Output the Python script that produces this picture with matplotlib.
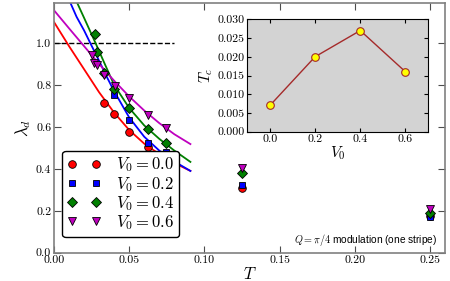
import matplotlib
matplotlib.use("Agg")
from matplotlib import pyplot as plt

plt.rcParams['font.family'] = 'serif'
plt.rcParams['font.serif'] = ['cmr10', 'DejaVu Serif']
plt.rcParams['mathtext.fontset'] = 'cm'
plt.rcParams['axes.formatter.use_mathtext'] = True

# measured points (T, lambda_d)
T_red = [0.0333, 0.04, 0.05, 0.0625, 0.0745, 0.125, 0.25]
lam_red = [0.714, 0.66, 0.576, 0.502, 0.469, 0.307, 0.175]
T_blue = [0.04, 0.05, 0.0625, 0.0745, 0.125, 0.25]
lam_blue = [0.754, 0.632, 0.524, 0.478, 0.322, 0.172]
T_green = [0.027, 0.0287, 0.0333, 0.04, 0.05, 0.0625, 0.0745, 0.125, 0.25]
lam_green = [1.045, 0.957, 0.857, 0.783, 0.69, 0.592, 0.521, 0.381, 0.188]
T_mag = [0.0251, 0.0269, 0.0289, 0.0333, 0.0405, 0.05, 0.0625, 0.0745, 0.125, 0.25]
lam_mag = [0.941, 0.906, 0.895, 0.848, 0.797, 0.738, 0.659, 0.597, 0.405, 0.207]

# fit curves
fitT_red = [0.0, 0.01, 0.02, 0.03, 0.04, 0.05, 0.06, 0.07, 0.08, 0.0907]
fit_red = [1.10, 0.985, 0.875, 0.765, 0.668, 0.585, 0.52, 0.47, 0.428, 0.39]
fitT_blue = [0.011, 0.015, 0.02, 0.0241, 0.03, 0.035, 0.04, 0.05, 0.06, 0.07, 0.08, 0.0907]
fit_blue = [1.19, 1.125, 1.06, 1.0, 0.915, 0.84, 0.77, 0.645, 0.553, 0.487, 0.435, 0.39]
fitT_green = [0.0155, 0.02, 0.0276, 0.035, 0.04, 0.05, 0.06, 0.07, 0.08, 0.0907]
fit_green = [1.19, 1.12, 1.0, 0.88, 0.80, 0.69, 0.607, 0.543, 0.487, 0.433]
fitT_mag = [0.0, 0.01, 0.02, 0.03, 0.04, 0.05, 0.06, 0.07, 0.08, 0.0907]
fit_mag = [1.156, 1.07, 0.985, 0.90, 0.82, 0.745, 0.678, 0.618, 0.565, 0.518]

V0 = [0.0, 0.2, 0.4, 0.6]
Tc = [0.007, 0.020, 0.027, 0.016]

labels = ['$V_0=0.0$', '$V_0=0.2$', '$V_0=0.4$', '$V_0=0.6$']

fig = plt.figure(figsize=(4.5, 2.81), dpi=100)
ax = fig.add_axes([0.12, 0.1007, 0.869, 0.888])

ax.plot([0, 0.08], [1.0, 1.0], 'k--', lw=1)
ax.plot(fitT_red, fit_red, color='r', lw=1.3)
ax.plot(fitT_blue, fit_blue, color='b', lw=1.3)
ax.plot(fitT_green, fit_green, color='g', lw=1.3)
ax.plot(fitT_mag, fit_mag, color='m', lw=1.3)

ax.plot(T_red, lam_red, 'o', color='r', mec='k', mew=0.6, ms=5.5, label=labels[0])
ax.plot(T_blue, lam_blue, 's', color='b', mec='k', mew=0.6, ms=5, label=labels[1])
ax.plot(T_green, lam_green, 'D', color='g', mec='k', mew=0.6, ms=4.8, label=labels[2])
ax.plot(T_mag, lam_mag, 'v', color='m', mec='k', mew=0.6, ms=6, label=labels[3])

ax.set_xlim(0, 0.26)
ax.set_ylim(0, 1.19)
ax.set_xticks([0.0, 0.05, 0.10, 0.15, 0.20, 0.25])
ax.set_xticklabels(['0.00', '0.05', '0.10', '0.15', '0.20', '0.25'])
ax.set_yticks([0.0, 0.2, 0.4, 0.6, 0.8, 1.0])
ax.set_yticklabels(['0.0', '0.2', '0.4', '0.6', '0.8', '1.0'])
ax.tick_params(direction='in', top=True, right=True, length=5, labelsize=8.5, pad=2, color='0.3')
for s in ax.spines.values():
    s.set_color('0.5')
    s.set_linewidth(1.2)
ax.set_xlabel('$T$', fontsize=12, labelpad=1)
ax.set_ylabel(r'$\lambda_d$', fontsize=12, labelpad=2)

leg = ax.legend(loc='lower left', bbox_to_anchor=(0.0, 0.03), numpoints=2,
                fontsize=12, handlelength=2.0, handletextpad=0.9,
                labelspacing=0.02, borderpad=0.3, fancybox=True, framealpha=1)
leg.get_frame().set_edgecolor('k')

ax.text(0.98, 0.05, r'$Q=\pi/4$ modulation (one stripe)', transform=ax.transAxes,
        ha='right', va='center', fontsize=7.3, family='Liberation Sans')

ins = fig.add_axes([0.5496, 0.5313, 0.4015, 0.40])
ins.set_facecolor('lightgray')
ins.plot(V0, Tc, '-o', color='brown', lw=1, mfc='yellow', mec='brown', mew=0.8, ms=5.5)
ins.set_xlim(-0.1, 0.7)
ins.set_ylim(0, 0.03)
ins.set_xticks(V0)
ins.set_xticklabels(['0.0', '0.2', '0.4', '0.6'])
ins.set_yticks([0.0, 0.005, 0.010, 0.015, 0.020, 0.025, 0.030])
ins.set_yticklabels(['0.000', '0.005', '0.010', '0.015', '0.020', '0.025', '0.030'])
ins.tick_params(direction='in', top=True, right=True, length=3, labelsize=8.5, pad=2)
ins.set_xlabel('$V_0$', fontsize=11, labelpad=0)
ins.set_ylabel('$T_c$', fontsize=11, labelpad=2)

fig.savefig('out.png', dpi=100)
